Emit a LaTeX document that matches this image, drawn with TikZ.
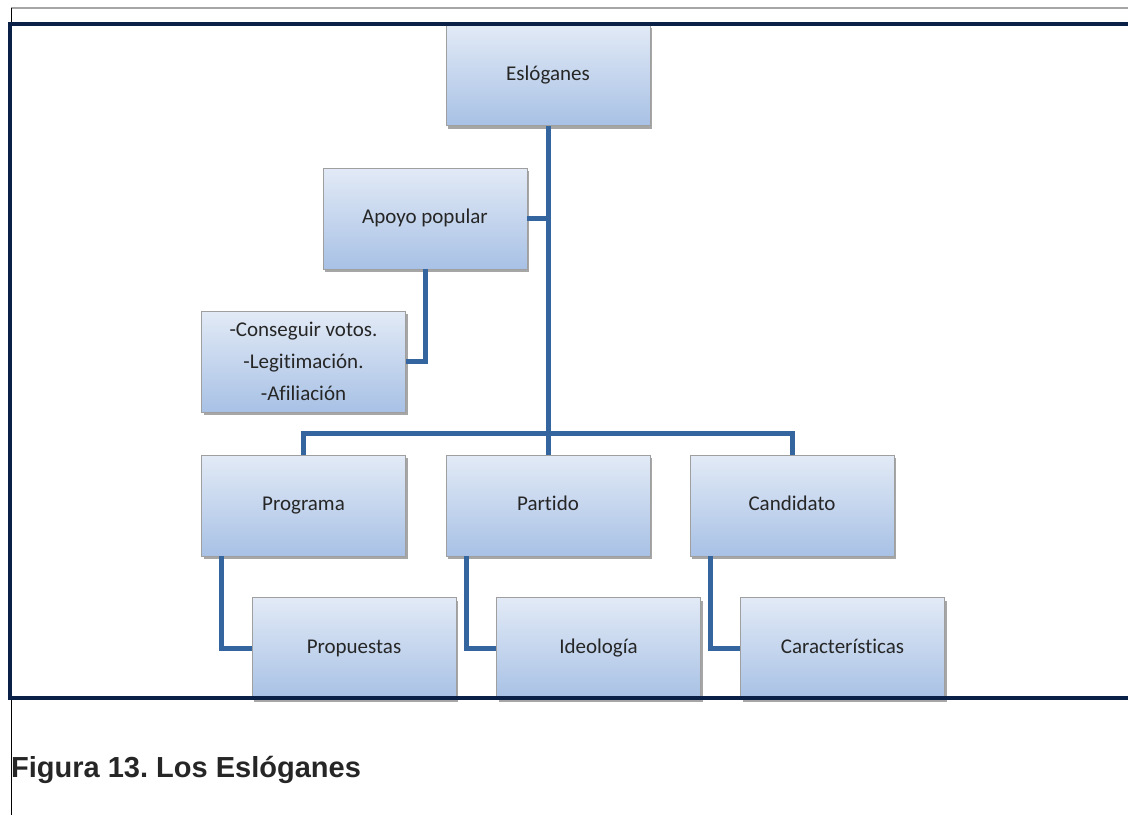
\documentclass[tikz,border=0pt]{standalone}
\usepackage{fontspec}
\setmainfont{Carlito}[Ligatures=NoCommon]
\newfontfamily\capfont{Liberation Sans}
\usetikzlibrary{shadows}
\definecolor{boxtop}{HTML}{E2EAF6}
\definecolor{boxbot}{HTML}{A8C1E5}
\definecolor{connc}{HTML}{34659F}
\definecolor{framec}{HTML}{0B2046}
\definecolor{txtc}{HTML}{262626}
\frenchspacing
\begin{document}
\begin{tikzpicture}[x=1pt,y=-1pt,
  box/.style={draw=gray!75, line width=0.8pt, top color=boxtop, bottom color=boxbot,
    minimum width=204pt, minimum height=101pt, inner sep=0pt,
    font=\fontsize{21}{32}\selectfont, text=txtc, align=center,
    drop shadow={shadow xshift=2pt, shadow yshift=-3pt, opacity=0.35, fill=black}},
  onebox/.style={box, text height=14pt, text depth=4pt},
  link/.style={draw=connc, line width=5pt, line join=miter}]
\useasboundingbox (0,0) rectangle (1128,815);
\fill[white] (0,0) rectangle (1128,815);
% page lines
\draw[gray!70, line width=1.5pt] (11,8) -- (1128,8);
\draw[black, line width=1pt] (11,8) -- (11,815);
% nodes
\node[onebox] (esl) at (548,75) {Eslóganes};
\node[onebox] (apoyo) at (425,218.5) {Apoyo popular};
\node[box] (lista) at (303.5,361.5) {-Conseguir votos.\\-Legitimación.\\-Afiliación};
\node[onebox] (prog) at (303.5,505.5) {Programa};
\node[onebox] (part) at (548,505.5) {Partido};
\node[onebox] (cand) at (792,505.5) {Candidato};
\node[onebox] (prop) at (354,648) {Propuestas};
\node[onebox] (ideo) at (598.5,648) {Ideología};
\node[onebox] (carac) at (842.5,648) {Características};
% connectors
\coordinate (j) at (548,433);
\draw[link] (esl.south) -- (part.north);
\draw[link] (apoyo.east) -- (apoyo.east -| esl.south);
\draw[link] (prog.north) |- (j) -| (cand.north);
\draw[link] (apoyo.south) |- (lista.east);
\draw[link] ([xshift=-82pt]prog.south) |- (prop.west);
\draw[link] ([xshift=-82pt]part.south) |- (ideo.west);
\draw[link] ([xshift=-82pt]cand.south) |- (carac.west);
% frame
\draw[framec, line width=4pt, line join=miter] (1128,24) -- (10,24) -- (10,698) -- (1128,698);
% caption
\node[anchor=base west, inner sep=0pt, font=\capfont\bfseries\fontsize{29}{34}\selectfont, text=txtc] (cap) at (11,777) {Figura 13. Los Eslóganes};
\end{tikzpicture}
\end{document}
